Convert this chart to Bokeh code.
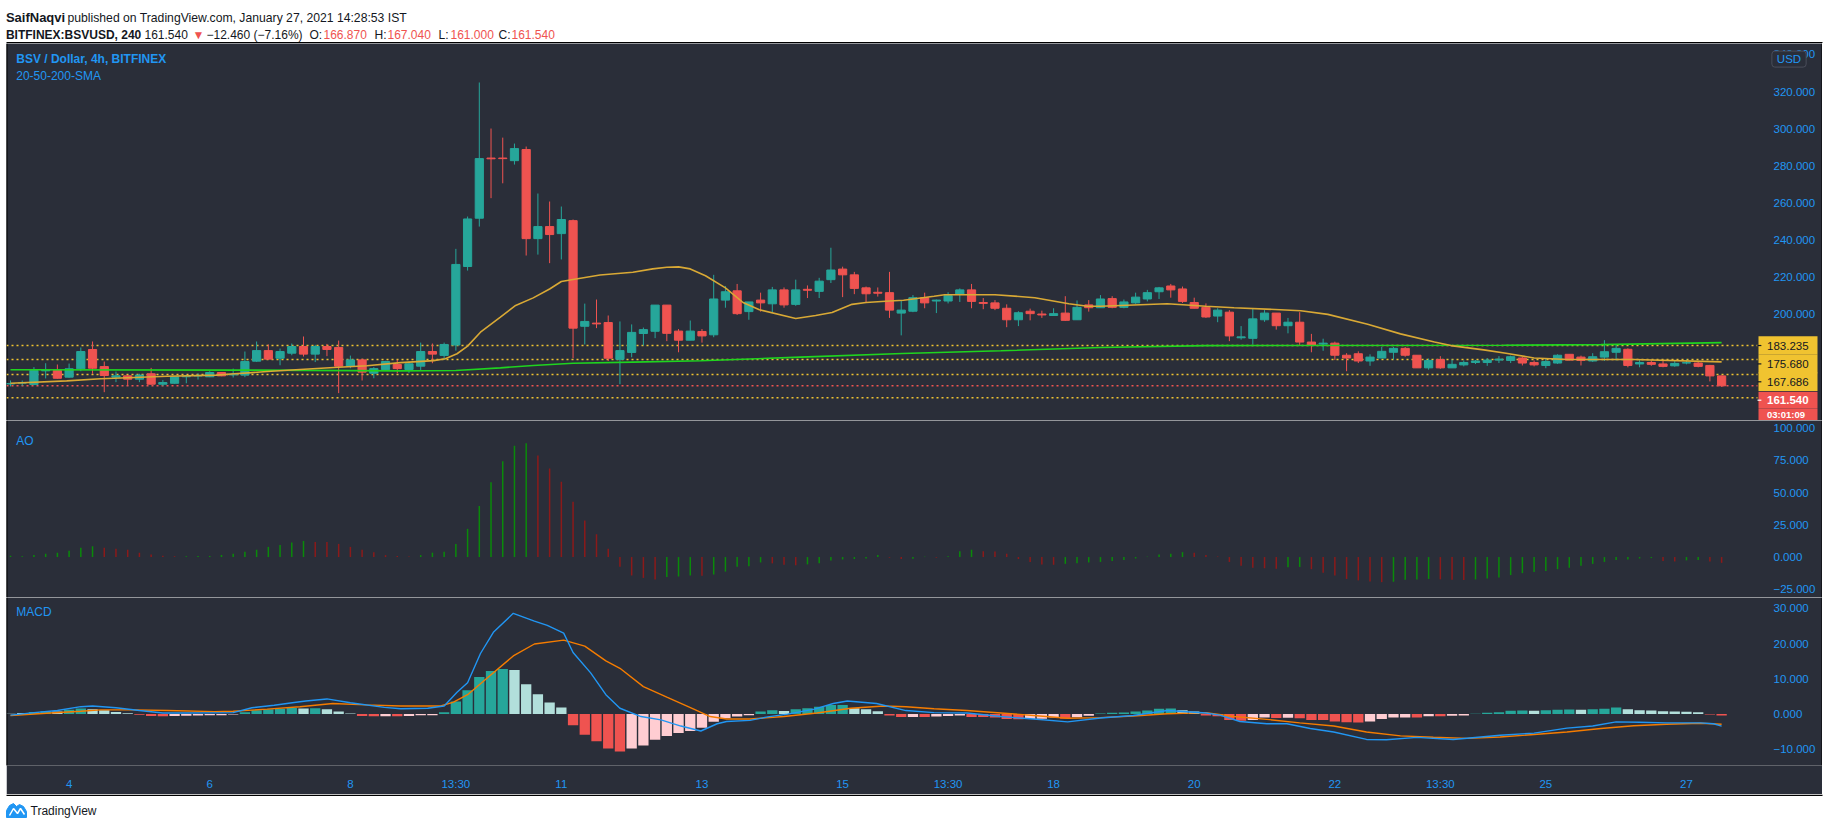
from bokeh.plotting import figure
from bokeh.layouts import column, row
from bokeh.models import Range1d, FixedTicker, Label, ColumnDataSource, Spacer
from bokeh.embed import file_html
from bokeh.resources import INLINE
from bokeh.core.properties import value

# ---------------- data (4h bars, BITFINEX:BSVUSD) ----------------
opens = [162.5,163.0,162.2,169.6,169.8,166.2,170.7,181.1,171.9,166.2,
         166.9,165.1,168.0,162.4,162.9,166.4,166.8,166.4,168.7,167.4,
         167.3,174.8,180.5,176.4,179.1,182.7,178.6,182.7,182.2,172.1,
         175.5,168.3,170.3,173.0,170.3,172.1,180.0,177.9,183.5,225.8,
         251.8,284.2,284.2,282.8,288.8,240.8,247.3,243.5,250.5,193.6,
         195.3,195.6,175.8,179.5,189.7,190.9,205.0,191.0,186.1,190.8,
         189.0,207.7,212.7,201.5,207.7,205.7,213.2,205.4,213.5,212.4,
         218.7,224.4,221.3,214.3,211.9,211.7,200.7,201.7,209.0,207.2,
         207.2,210.9,213.2,206.4,206.2,203.3,197.1,201.7,200.2,199.4,
         200.7,197.1,205.1,203.6,208.5,203.8,206.2,208.3,212.2,215.3,
         213.7,206.4,203.8,199.1,201.2,187.4,187.1,197.1,200.7,193.9,
         195.8,185.1,184.0,184.5,178.0,178.8,174.9,176.5,179.6,181.7,
         178.0,171.2,175.7,171.2,172.8,174.1,174.1,175.4,175.2,176.5,
         174.1,172.5,173.8,178.5,177.0,174.9,177.0,179.6,181.2,173.3,
         174.1,173.3,172.3,173.8,173.8,172.5,166.87]
highs = [164.4,164.4,171.6,173.7,173.0,173.5,182.2,185.4,174.6,169.2,
         167.3,168.0,171.2,164.7,166.6,167.6,168.2,169.4,168.9,170.8,
         180.0,185.4,183.8,181.6,184.3,188.1,183.6,184.1,185.9,177.8,
         176.2,171.6,175.0,175.5,174.6,184.8,184.3,184.8,235.3,252.7,
         324.9,300.1,295.2,292.0,290.4,265.1,260.8,258.1,251.1,205.8,
         208.0,199.4,196.2,194.6,192.9,205.0,205.0,192.1,196.7,192.1,
         221.3,215.3,216.4,206.7,211.7,214.8,214.5,218.7,215.6,219.7,
         235.9,225.7,222.9,215.0,214.5,222.9,207.5,210.4,211.7,208.0,
         211.9,214.0,216.4,208.8,207.7,205.4,201.7,203.1,202.0,203.3,
         209.8,207.5,207.7,210.4,209.8,208.0,211.7,213.2,214.8,216.4,
         215.0,209.0,205.9,203.3,202.3,193.7,203.1,202.3,200.7,198.1,
         201.2,189.5,186.9,185.3,179.1,180.1,178.5,182.5,182.5,182.5,
         178.0,176.2,177.5,175.7,175.2,175.4,176.5,177.5,177.8,177.0,
         175.2,176.5,178.5,178.5,177.8,179.1,186.1,184.0,181.7,175.4,
         175.2,174.9,175.2,175.7,174.4,172.8,167.04]
lows = [161.2,161.5,161.9,165.5,165.4,165.9,169.4,168.0,158.1,163.5,
        161.5,163.5,162.2,161.3,162.7,162.9,164.9,166.2,166.7,166.0,
        166.2,174.4,175.7,172.6,178.0,177.3,174.3,177.5,157.6,171.0,
        164.4,165.6,169.8,168.3,168.5,169.8,173.7,175.5,180.5,223.6,
        247.3,262.6,270.6,280.7,231.7,232.2,227.6,229.6,176.4,183.8,
        192.6,174.9,162.4,176.9,183.2,187.2,185.6,179.6,186.1,184.8,
        187.7,203.6,199.7,197.1,201.5,201.2,203.6,204.6,208.8,208.8,
        216.9,209.3,210.9,206.2,209.6,198.1,188.7,201.2,203.3,200.7,
        205.9,206.7,203.3,202.8,202.3,193.1,193.7,196.8,198.1,199.2,
        196.5,197.1,201.5,203.6,203.3,203.3,205.7,207.0,208.3,209.0,
        206.2,203.3,198.1,195.8,185.6,186.4,183.8,196.0,191.8,189.8,
        183.0,179.6,180.4,175.4,169.4,173.8,172.3,176.5,175.7,177.2,
        171.2,170.2,170.7,171.2,172.0,173.3,172.3,173.8,173.8,172.5,
        172.0,171.0,173.3,175.2,172.5,174.4,174.9,175.2,171.5,171.5,
        172.3,171.5,171.8,173.1,171.5,163.9,161.0]
closes = [162.8,163.1,169.8,169.9,165.6,170.7,180.0,171.0,167.1,166.9,
          165.1,167.3,162.4,163.3,166.4,166.7,167.1,168.7,166.9,167.8,
          174.6,180.5,175.9,180.0,182.7,178.6,182.7,181.1,172.1,175.5,
          168.9,170.8,174.6,170.8,173.4,180.0,178.6,183.8,226.9,251.4,
          283.9,283.8,283.9,289.3,240.8,247.3,243.0,251.1,192.6,196.2,
          194.9,176.4,180.5,190.3,191.8,205.0,189.8,186.1,191.0,188.4,
          208.3,212.2,200.4,206.7,206.2,213.2,205.1,213.2,213.0,217.9,
          223.9,221.3,214.0,211.1,211.4,202.3,202.3,209.0,206.2,207.7,
          210.1,213.2,207.0,205.9,203.3,197.1,200.9,200.4,199.7,200.4,
          196.8,203.8,203.6,208.3,203.8,206.7,209.3,211.7,214.3,213.2,
          207.0,203.3,198.6,202.3,188.4,187.9,197.6,200.7,193.9,195.8,
          185.1,183.5,184.5,178.0,176.5,174.9,177.0,180.1,181.7,178.0,
          171.2,175.2,171.2,173.1,174.1,174.9,175.4,175.9,177.2,173.8,
          172.8,174.6,178.0,175.4,175.2,177.2,179.9,181.7,172.5,174.1,
          173.1,172.0,173.6,174.0,172.0,166.87,161.54]

# moving averages (bar position, value)
sma20_x = [0,4.8,7.7,13.4,17.6,19.1,21.9,24.7,27.6,30.4,33.3,36.1,37.1,38.1,39,40.1,41.8,43.1,44.6,46,47,48,
           50.3,53.1,54.8,56,57,58,59.3,61,62.5,63.9,67,68.7,70.1,71.8,73,75,76.2,78.8,79.7,84,87.4,90.3,91.9,
           93,98.7,102,104.4,110.1,112.4,115.8,118.6,121.5,122.9,125.7,127.6,130,132.8,138.5,146]
sma20_y = [162.9,164.2,165.3,166.7,167.3,168.0,169.2,170.3,171.4,172.3,174.0,175.1,176.1,178.8,182.9,190.4,198.5,
           204.8,208.9,213.7,217.7,218.8,221.2,222.7,224.5,225.4,225.6,224.5,220.8,214.3,206.4,202.5,197.8,199.4,
           201.0,205.4,206.4,207.2,207.6,209.8,210.6,210.6,209.0,205.7,204.4,204.4,205.7,204.4,203.6,202.0,200.0,
           194.7,189.5,185.1,183.2,180.9,179.1,176.5,175.7,175.7,174.4]
sma200_x = [0,20,33.3,38,41.8,44.6,48,53.1,58.9,67.4,76.1,84.5,93,102,127.4,135.7,146]
sma200_y = [170.2,170.0,169.6,169.8,171.2,172.5,173.7,174.3,175.0,177.0,178.9,180.4,182.2,183.2,183.4,183.7,184.8]

# horizontal levels drawn on the chart
levels = [183.235, 175.680, 167.686, 155.1]
last_price = 161.54
# price-scale tags: text, where the tag sits on the scale, its half height (price units), font size
tag_text = ["183.235", "175.680", "167.686", "161.540", "03:01:09"]
tag_pos = [183.235, 173.33, 163.69, 153.78, 145.83]
tag_half = [4.97, 4.97, 4.97, 4.6, 3.2]
tag_size = ["11.5px", "11.5px", "11.5px", "11.5px", "9.5px"]

# Awesome Oscillator
ao = [1.0,0.6,1.5,2.6,3.4,4.9,7.2,8.3,7.2,6.4,
      5.7,3.4,1.9,1.1,0.6,0.7,0.8,0.9,1.5,2.6,
      4.2,5.7,7.9,9.4,11.3,12.5,11.7,11.6,10.2,7.9,
      5.7,3.8,1.5,0.8,0.4,1.5,3.4,4.2,10.2,21.9,
      39.6,58.1,74.3,86.4,88.3,78.9,68.7,58.5,43.0,28.3,
      17.7,6.4,-7.5,-14.3,-16.2,-17.4,-15.5,-15.1,-14.3,-14.6,
      -13.6,-11.3,-7.5,-7.2,-4.2,-4.9,-6.0,-6.4,-5.7,-4.9,
      -2.6,-1.9,-1.5,-1.1,1.5,-0.5,-1.5,-1.3,0.3,-0.5,
      0.6,4.5,5.7,4.5,4.3,2.6,-1.5,-3.8,-5.7,-6.0,
      -5.3,-4.9,-4.2,-3.8,-3.0,-2.3,-1.1,0.3,1.9,2.6,
      3.8,3.4,1.5,0.4,-3.8,-6.8,-8.3,-8.7,-9.1,-7.9,
      -7.7,-9.4,-12.1,-14.3,-17.0,-18.1,-19.0,-19.5,-19.2,-17.7,
      -17.5,-17.0,-17.3,-17.6,-17.8,-17.4,-16.6,-15.8,-14.0,-12.5,
      -11.7,-10.9,-9.4,-8.3,-6.8,-5.3,-3.8,-2.3,-1.9,-1.1,
      -0.8,-3.0,-3.4,-2.6,-2.3,-3.4,-4.5]
ao_state = ("gggggggg" "rrrrrrr" "ggggggggggg" "rrrrrrrrr" "gggggggggg" "rrrrrrrrrrr" "ggg" "r" "ggggg"
            "rrr" "ggggggg" "rr" "gg" "r" "ggg" "rrrrrrr" "ggggggggggg" "rrrrrrrr" "gg" "rrrrrrr" "gggg"
            "rrr" "gggggggggggggggg" "rr" "gg" "rr")

# MACD
macd_hist = [0.1,0.3,0.6,0.8,0.7,1.2,1.6,1.4,1.1,0.6,
             0.2,-0.2,-0.55,-0.6,-0.55,-0.45,-0.4,-0.35,-0.3,-0.15,
             0.5,1.1,1.4,1.5,1.7,1.6,1.65,1.4,0.7,0.15,
             -0.55,-0.6,-0.6,-0.65,-0.55,-0.3,-0.3,0.55,3.6,6.8,
             10.5,12.2,12.8,12.5,8.5,5.6,3.3,1.9,-3.2,-5.9,
             -7.7,-9.8,-10.6,-9.8,-8.9,-7.3,-6.2,-5.4,-4.8,-3.9,
             -2.2,-1.2,-0.7,-0.3,0.7,1.1,0.9,1.4,1.65,2.1,
             2.6,2.6,1.65,1.4,0.8,-0.4,-0.8,-0.8,-0.85,-0.7,
             -0.55,-0.4,-0.8,-0.85,-0.95,-1.4,-1.45,-1.4,-1.3,-1.0,
             -1.3,-0.9,-0.5,0.15,0.4,0.45,0.7,1.0,1.5,1.55,
             1.1,0.7,-0.4,-0.6,-1.65,-1.9,-1.65,-1.0,-1.1,-1.05,
             -1.2,-1.65,-1.7,-2.1,-2.3,-2.4,-2.1,-1.4,-1.0,-0.95,
             -1.0,-0.6,-0.65,-0.45,-0.4,0.1,0.4,0.55,0.95,1.0,
             0.95,1.1,1.25,1.3,1.25,1.4,1.5,1.9,1.4,1.1,
             1.0,0.8,0.7,0.65,0.55,-0.15,-0.4]
hist_state = ("llttlttlll" "lrrrpppppp" "tttttltlll" "rrprpppttt" "tttlllllrr"
              "rrrppppppp" "ppppttlttt" "ttlllrrprp" "pprrrrrppp" "rppttttttt"
              "llrrrrpprp" "rrrrrrpppp" "rprppttttt" "ltttltttll" "lllllrr")
macd_x = [0,2,4,6,7,9,11,13,15,19,20.6,22.5,24.2,25.2,27,29,31.9,33.3,35.6,37,38.1,39,40.1,41.2,42.9,44.7,
          45.8,47.2,48,49.5,50.8,52,53.8,55.5,57.2,58.9,60.3,61.1,63.1,64.6,66.3,68.6,70.2,71.4,73.9,76.4,
          78.8,81.6,84.5,87.3,90.2,93,95.8,98.7,102,103.2,104.9,107.2,108.9,110.9,112.9,115.7,117.4,120,
          123.1,127.1,130,132.8,135,137,139,141.3,144.2,145.3,146]
macd_y = [-0.3,0.4,1.0,2.1,2.3,1.8,1.0,0.3,0.3,0.4,1.8,2.5,3.3,3.7,4.3,3.2,1.9,1.5,1.65,2.3,6.2,8.9,17.2,
          23.2,28.6,26.4,25.2,23.0,17.5,11.7,5.5,1.65,-0.7,-1.65,-3.4,-4.8,-2.75,-2.1,-1.8,-0.8,0.0,1.4,
          3.0,3.7,3.0,1.0,0.4,0.3,-0.7,-1.4,-2.2,-1.1,-0.4,1.0,0.3,-0.3,-2.1,-2.75,-2.75,-4.1,-5.1,-7.2,
          -7.3,-6.6,-7.2,-6.0,-5.4,-4.0,-3.4,-2.2,-2.3,-2.5,-2.5,-2.75,-3.4]
sig_x = [0,3.4,6,7.7,10.5,13.4,17.4,19,21.9,24.7,27.5,30.3,33.3,36.7,37.8,39,40.7,42.9,44.7,47.2,49,50.8,
         52,54,56,58.3,59.7,61.1,63.1,66,68.8,71.7,74.5,76.4,78.8,81.6,84.5,87.3,90.2,93,95.8,98.7,102,
         104.4,107.2,110,112.9,115.7,118.6,121.4,124.3,127.1,130,132.8,135.7,138.5,141.3,144.2,146]
sig_y = [-0.4,0.3,0.8,1.2,1.2,1.0,0.7,0.8,1.4,2.1,3.0,2.6,2.3,2.3,3.4,5.5,10.3,16.5,19.9,21.0,19.3,15.1,
         13.0,7.8,4.8,1.4,-0.7,-1.4,-1.4,-0.7,0.3,1.65,2.3,2.1,1.5,1.0,0.3,-0.4,-1.2,-1.0,-0.55,0.1,0.4,
         -0.7,-1.5,-2.5,-3.4,-5.1,-6.2,-6.6,-6.9,-6.5,-5.8,-5.1,-4.1,-3.3,-2.9,-2.6,-2.9]

# axes
time_ticks = [5, 17, 29, 38, 47, 59, 71, 80, 89, 101, 113, 122, 131, 143]
time_labels = ["4", "6", "8", "13:30", "11", "13", "15", "13:30", "18", "20", "22", "13:30", "25", "27"]
price_ticks = [200, 220, 240, 260, 280, 300, 320, 340]
ao_ticks = [-25, 0, 25, 50, 75, 100]
macd_ticks = [-10, 0, 10, 20, 30]

# ---------------- style ----------------
PW = 1816                      # panel width (screen x 6 .. 1822)
BG = "#2a2e39"
UP, DOWN = "#26a69a", "#ef5350"
BLUE = "#2196f3"
YEL = "#f0c330"
INK = "#131722"
FONT = "Liberation Sans"
BAR_PX = 11.72                 # pixels per bar
X0 = (6 - 10) / BAR_PX
X1 = (1822 - 10) / BAR_PX
XAX = (1757 - 10) / BAR_PX     # where the price scale starts
XTAG0 = (1758 - 10) / BAR_PX
XTAG1 = (1817 - 10) / BAR_PX
XTXT = (1766.5 - 10) / BAR_PX
xr = Range1d(X0, X1)


def fmt(t):
    return ("%.3f" % t).replace("-", "\u2212")


def pane(h, yr, ticks, bottom=0, xaxis=False):
    p = figure(width=PW, height=h, x_range=xr, y_range=Range1d(*yr), title=None,
               output_backend="svg", toolbar_location=None,
               x_axis_location="below" if xaxis else None, y_axis_location="right",
               min_border_left=0, min_border_right=0, min_border_top=0, min_border_bottom=bottom,
               background_fill_color=BG, border_fill_color=BG, outline_line_color=None)
    p.xgrid.visible = False
    p.ygrid.visible = False
    axes = list(p.yaxis) + (list(p.xaxis) if xaxis else [])
    for ax in axes:
        ax.axis_line_color = None
        ax.major_tick_line_color = None
        ax.minor_tick_line_color = None
        ax.major_label_text_color = BLUE
        ax.major_label_text_font = FONT
        ax.major_label_text_font_size = "11.5px"
    p.yaxis.ticker = FixedTicker(ticks=ticks)
    p.yaxis.major_label_overrides = {t: fmt(t) for t in ticks}
    p.yaxis.major_label_standoff = 10
    p.yaxis.fixed_location = XAX
    # dark panel edges
    p.segment(x0=[X0, X1], y0=[yr[0], yr[0]], x1=[X0, X1], y1=[yr[1], yr[1]],
              line_color="#000000", line_width=2)
    return p


def title(p, x, y, text, size="12px", style="normal"):
    p.add_layout(Label(x=x, y=y, text=text, text_color=BLUE, text_font=FONT, text_font_size=size,
                       text_font_style=style, text_baseline="middle", text_align="left"))


# ---------------- price pane ----------------
price = pane(377, (142.85, 345.9), price_ticks)
bar = list(range(len(opens)))
cols = [UP if c >= o else DOWN for o, c in zip(opens, closes)]
src = ColumnDataSource(dict(x=bar, h=highs, l=lows,
                            top=[max(o, c) for o, c in zip(opens, closes)],
                            bot=[min(o, c) for o, c in zip(opens, closes)], col=cols))
price.segment(x0=[X0] * len(levels), y0=levels, x1=[XAX] * len(levels), y1=levels,
              line_color=YEL, line_width=1.5, line_dash="2 3")
price.segment(x0=[X0], y0=[last_price], x1=[XAX], y1=[last_price],
              line_color=DOWN, line_width=1.5, line_dash="2 3")
price.segment(x0="x", y0="h", x1="x", y1="l", line_color="col", line_width=1, source=src)
price.vbar(x="x", width=0.7, top="top", bottom="bot", fill_color="col", line_color="col",
           line_width=1, source=src)
price.line(sma200_x, sma200_y, line_color="#1fd41f", line_width=1.6)
price.line(sma20_x, sma20_y, line_color="#d9a935", line_width=1.6)

title(price, 0.49, 337.6, "BSV / Dollar, 4h, BITFINEX", style="bold")
title(price, 0.49, 328.2, "20-50-200-SMA")

# price-scale tags
tag_bg = [YEL, YEL, YEL, DOWN, DOWN]
tag_fg = [INK, INK, INK, "white", "white"]
price.quad(left=[XTAG0] * 5, right=[XTAG1] * 5,
           top=[p + h for p, h in zip(tag_pos, tag_half)],
           bottom=[p - h for p, h in zip(tag_pos, tag_half)],
           fill_color=tag_bg, line_color=None)
price.text(x=[XTXT] * 5, y=tag_pos, text=tag_text, text_color=tag_fg,
           text_font=value(FONT), text_font_size=tag_size,
           text_font_style=["normal", "normal", "normal", "bold", "bold"],
           text_baseline="middle", text_align="left")
price.segment(x0=[XAX] * 4, y0=tag_pos[:4], x1=[XAX + 0.33] * 4, y1=tag_pos[:4],
              line_color=[INK, INK, INK, "white"], line_width=1.2)
price.add_layout(Label(x=(1788.5 - 10) / BAR_PX, y=337.5, text="USD", text_align="center",
                       text_baseline="middle", text_font=FONT, text_font_size="11.5px", text_color=BLUE,
                       background_fill_color=BG, border_line_color="#4a4e5a", border_radius=3,
                       padding=dict(left=5, right=5, top=2, bottom=2)))

# ---------------- AO pane ----------------
aop = pane(177, (-31.4, 106.0), ao_ticks)
ao_src = ColumnDataSource(dict(x=bar, v=ao, col=["#0a8a0a" if s == "g" else "#8b1a1a" for s in ao_state]))
aop.segment(x0="x", y0=0, x1="x", y1="v", line_color="col", line_width=1.5, source=ao_src)
title(aop, 0.49, 89.7, "AO")

# ---------------- MACD pane ----------------
mp = pane(197, (-14.6, 33.1), macd_ticks, bottom=29, xaxis=True)
hmap = {"t": "#26a69a", "l": "#b2dfdb", "r": "#ef5350", "p": "#ffcdd2"}
h_src = ColumnDataSource(dict(x=bar, v=macd_hist, col=[hmap[s] for s in hist_state]))
mp.vbar(x="x", width=0.88, top="v", bottom=0, fill_color="col", line_color=None, source=h_src)
mp.line(sig_x, sig_y, line_color="#f57c00", line_width=1.4)
mp.line(macd_x, macd_y, line_color="#2196f3", line_width=1.4)
mp.xaxis.ticker = FixedTicker(ticks=time_ticks)
mp.xaxis.major_label_overrides = dict(zip(time_ticks, time_labels))
mp.xaxis.major_label_standoff = 6
title(mp, 0.49, 28.9, "MACD")

# ---------------- header ----------------
HW = 1824
hdr = figure(width=HW, height=43, x_range=Range1d(0, HW), y_range=Range1d(0, 43), title=None,
             output_backend="svg", toolbar_location=None, x_axis_location=None, y_axis_location=None,
             min_border=0, outline_line_color=None, background_fill_color="white",
             border_fill_color="white")
hdr.grid.visible = False
RED_T = "#ef5350"
hs = ColumnDataSource(dict(
    x=[5.4, 67, 5.4, 144, 192, 206, 309, 323, 374, 387, 438, 450, 498, 511],
    y=[25.7, 25.7] + [9] * 12,
    t=["SaifNaqvi", "published on TradingView.com, January 27, 2021 14:28:53 IST",
       "BITFINEX:BSVUSD, 240", "161.540", "\u25bc", "\u221212.460 (\u22127.16%)",
       "O:", "166.870", "H:", "167.040", "L:", "161.000", "C:", "161.540"],
    col=[INK, INK, INK, INK, RED_T, INK, INK, RED_T, INK, RED_T, INK, RED_T, INK, RED_T],
    sty=["bold", "normal", "bold"] + ["normal"] * 11,
    fs=["13px", "12.2px", "12px"] + ["12px"] * 11))
hdr.text(x="x", y="y", text="t", text_color="col", text_font_style="sty", text_font=value(FONT),
         text_font_size="fs", text_baseline="alphabetic", text_align="left", source=hs)
hdr.segment(x0=[6], y0=[0.75], x1=[1822], y1=[0.75], line_color="#000000", line_width=1.5)

# ---------------- footer ----------------
ftr = figure(width=HW, height=30, x_range=Range1d(0, HW), y_range=Range1d(0, 30), title=None,
             output_backend="svg", toolbar_location=None, x_axis_location=None, y_axis_location=None,
             min_border=0, outline_line_color=None, background_fill_color="white",
             border_fill_color="white")
ftr.grid.visible = False
ftr.segment(x0=[6], y0=[29.25], x1=[1822], y1=[29.25], line_color="#000000", line_width=1.5)
ftr.patch([6, 6, 9, 13, 16, 19, 23, 26, 26], [7, 14, 19, 21, 18, 20, 18, 13, 7], fill_color="#2196f3",
          line_color="#2196f3")
ftr.line([9, 13, 17, 20, 24], [9, 16, 11, 16, 10], line_color="white", line_width=1.5)
ftr.text(x=[30], y=[14], text=["TradingView"], text_color=INK, text_font=value(FONT),
         text_font_size=value("12px"), text_baseline="middle", text_align="left")

panes = column(price, aop, mp, spacing=0)
layout = column(hdr, row(Spacer(width=6, height=751), panes, spacing=0), ftr, spacing=0)
open("out.html", "w").write(file_html(layout, INLINE))
